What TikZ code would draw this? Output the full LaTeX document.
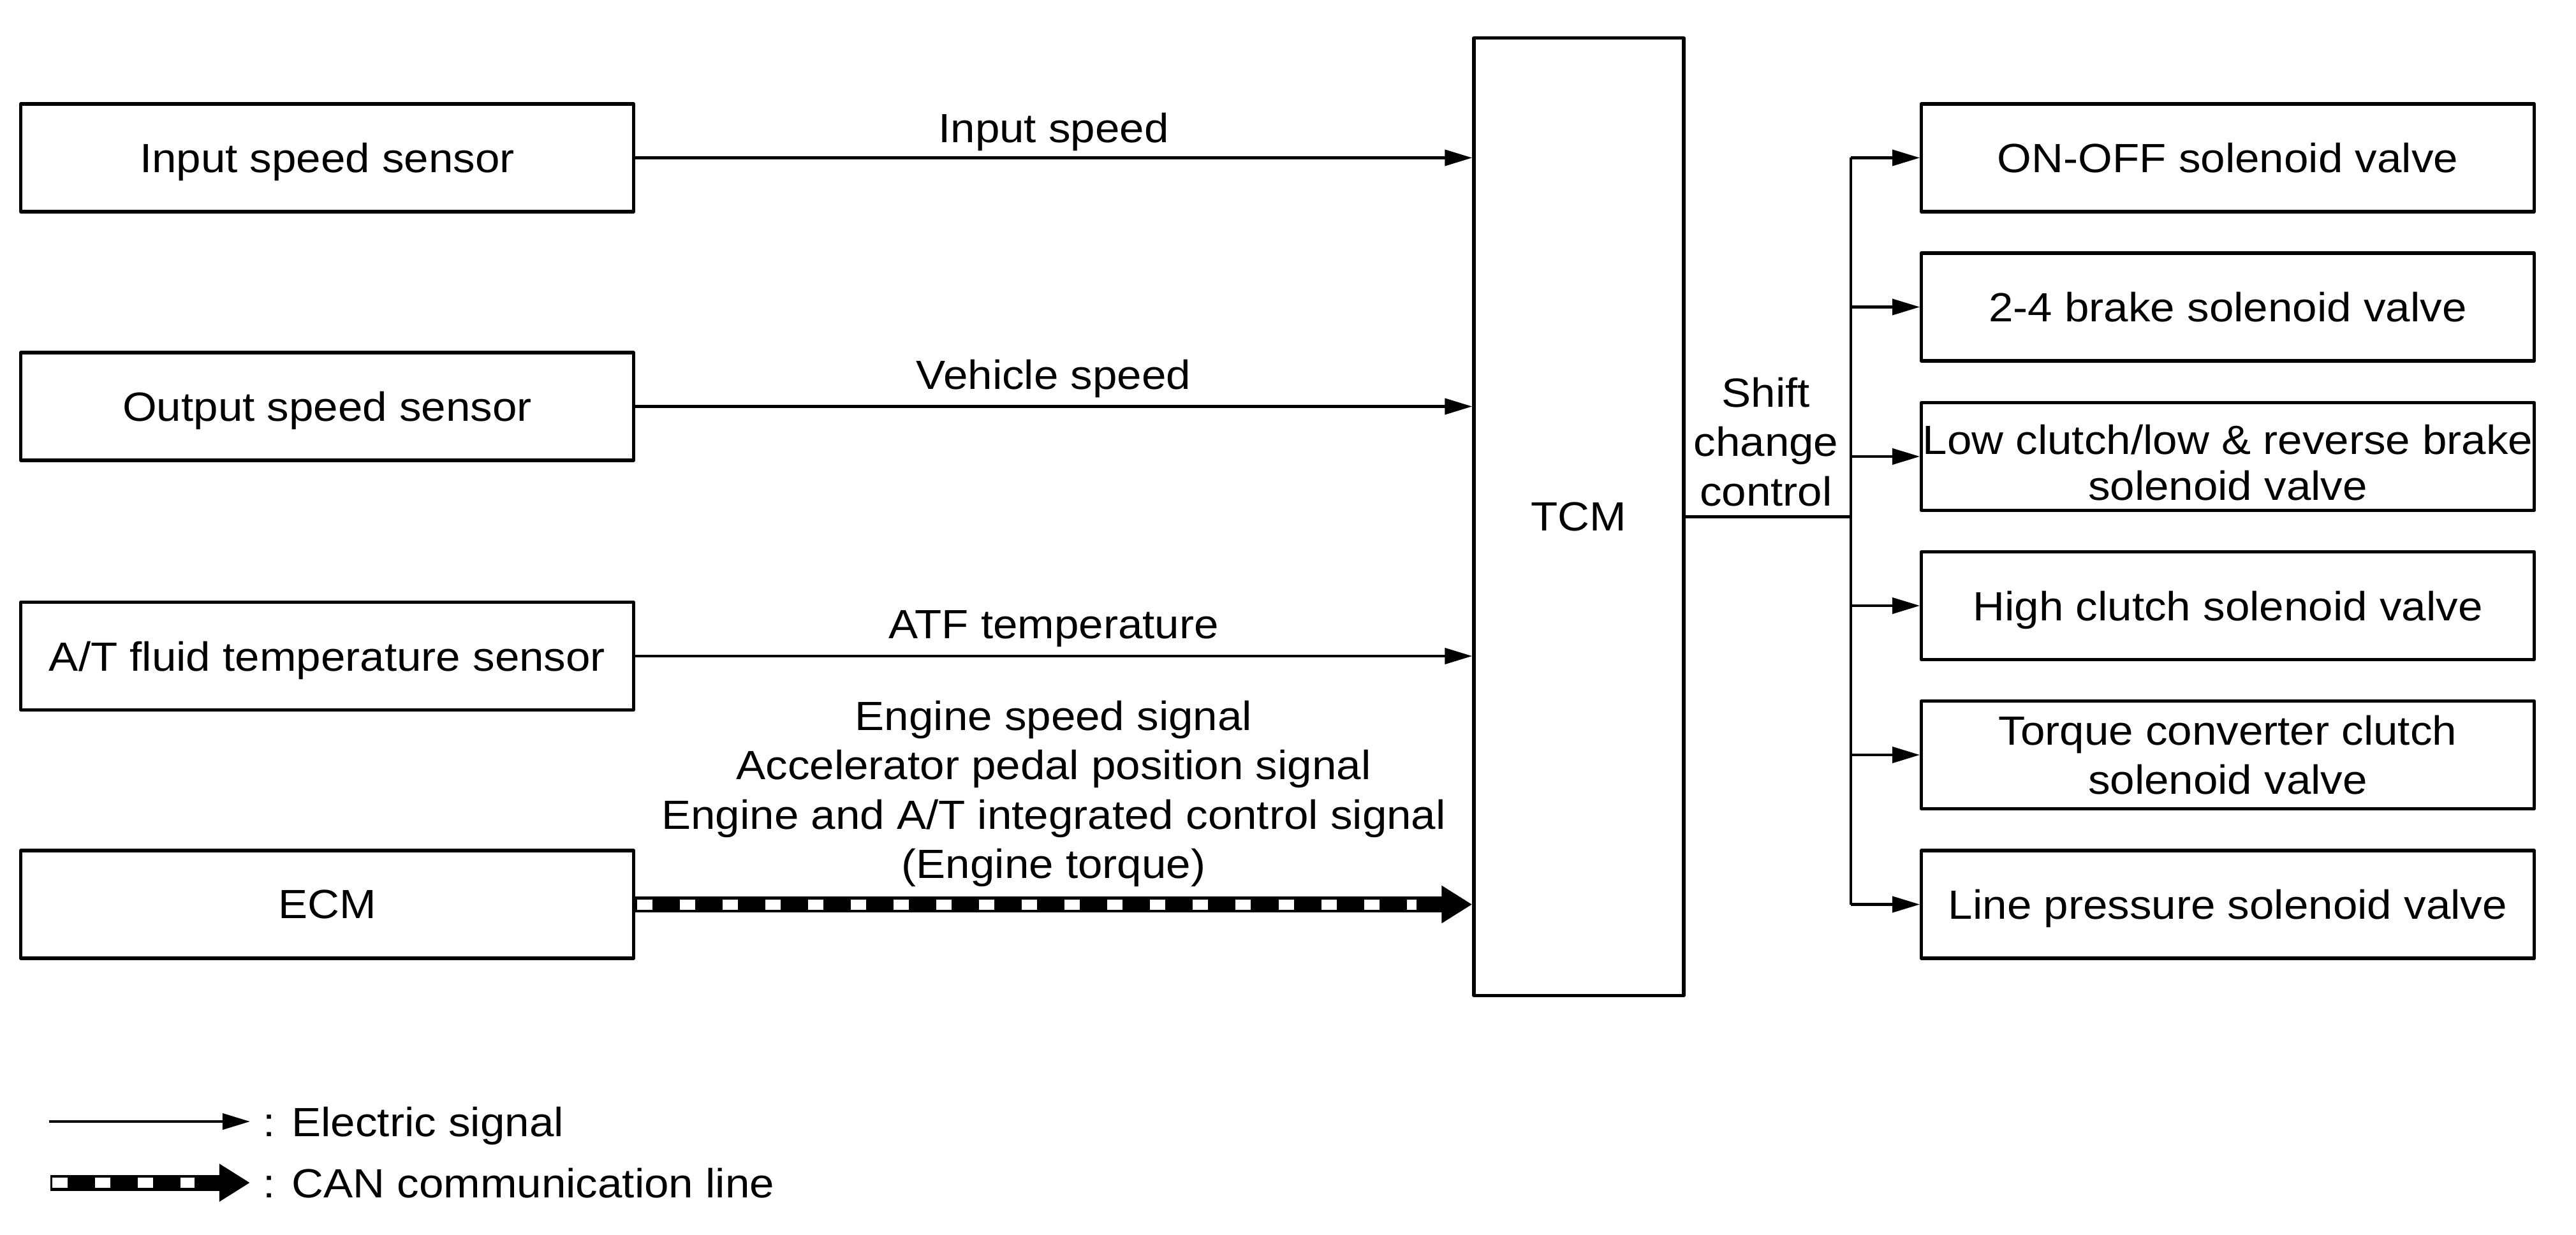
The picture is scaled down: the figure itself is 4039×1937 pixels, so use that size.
\documentclass[tikz,border=0pt]{standalone}
\usepackage{fontspec}
\setmainfont{Liberation Sans}[FakeStretch=1.08]
\usetikzlibrary{arrows.meta}
\newcommand\diafont{\fontsize{18.2pt}{22pt}\selectfont}
\begin{document}
\begin{tikzpicture}[x=0.01cm, y=-0.01cm,
  box/.style={draw, line width=1.5pt, line join=round, minimum height=1.69cm, inner sep=0pt, align=center, font=\diafont, text depth=0pt},
  lbox/.style={box, minimum width=9.60cm},
  rbox/.style={box, minimum width=9.60cm},
  wire/.style={line width=1.15pt, line join=round},
  sig/.style={wire, -{Triangle[length=0.43cm,width=0.25cm]}},
  can/.style={line width=0.25cm, -{Triangle[length=0.48cm,width=0.56cm]},
    postaction={draw=white, -, line width=0.16cm, dash pattern=on 0.24cm off 0.43cm, shorten <=0.03cm, shorten >=0.87cm}},
  lab/.style={font=\diafont, inner sep=0pt, align=center}
]
\useasboundingbox (0,0) rectangle (4039,1937);
% left boxes
\node[lbox] (iss) at (513,247.5) {Input speed sensor};
\node[lbox] (oss) at (513,637.5) {Output speed sensor};
\node[lbox] (ats) at (513,1029) {A/T fluid temperature sensor};
\node[lbox] (ecm) at (513,1418.5) {ECM};
% TCM
\node[box, minimum width=3.29cm, minimum height=15.01cm] (tcm) at (2475.5,810.5) {TCM};
% right boxes
\node[rbox] (r1) at (3493,247.5) {ON-OFF solenoid valve};
\node[rbox] (r2) at (3493,481.5) {2-4 brake solenoid valve};
\node[rbox] (r3) at (3493,716) {};
\node[lab, font=\fontsize{18.2pt}{20.5pt}\selectfont, yshift=-0.1cm] (r3t) at (r3) {Low clutch/low \& reverse brake\\solenoid valve};
\node[rbox] (r4) at (3493,950) {High clutch solenoid valve};
\node[rbox] (r5) at (3493,1184) {Torque converter clutch\\solenoid valve};
\node[rbox] (r6) at (3493,1418.5) {Line pressure solenoid valve};
% inputs
\draw[sig] (iss.east) -- node[lab, above=0.09cm] (l1) {Input speed} (iss.east -| tcm.west);
\draw[sig] (oss.east) -- node[lab, above=0.12cm] (l2) {Vehicle speed} (oss.east -| tcm.west);
\draw[sig] (ats.east) -- node[lab, above=0.12cm] (l3) {ATF temperature} (ats.east -| tcm.west);
\draw[can] (ecm.east) -- node[lab, above=0.15cm] (l4) {Engine speed signal\\Accelerator pedal position signal\\Engine and A/T integrated control signal\\(Engine torque)} (ecm.east -| tcm.west);
% outputs
\node[lab] (scc) at (2769,693) {Shift\\change\\control};
\coordinate (bus) at (2902,810.5);
\draw[wire] (tcm.east) -- (bus);
\draw[wire] (bus |- r1.west) -- (bus |- r6.west);
\foreach \r in {r1,r2,r3,r4,r5,r6}{
  \draw[sig] (bus |- \r.west) -- (\r.west);
}
% legend
\coordinate (e0) at (77,1759);
\coordinate (e1) at (392,1759);
\draw[sig] (e0) -- (e1);
\node[lab, anchor=base west] (et) at (412,1782) {: Electric signal};
\coordinate (c0) at (79,1855);
\coordinate (c1) at (392,1855);
\draw[can] (c0) -- (c1);
\node[lab, anchor=base west] (ct) at (412,1878) {: CAN communication line};
\end{tikzpicture}
\end{document}
